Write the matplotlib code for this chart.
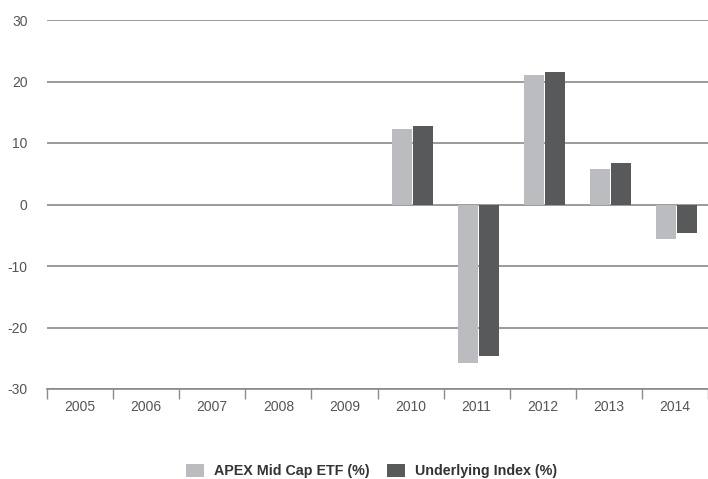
import matplotlib.pyplot as plt
import numpy as np

plt.rcParams['font.family'] = ['Liberation Sans', 'DejaVu Sans']
plt.rcParams['axes.unicode_minus'] = False

years = ['2005', '2006', '2007', '2008', '2009', '2010', '2011', '2012', '2013', '2014']
etf = [np.nan, np.nan, np.nan, np.nan, np.nan, 12.2, -25.8, 21.1, 5.7, -5.6]
index = [np.nan, np.nan, np.nan, np.nan, np.nan, 12.7, -24.7, 21.6, 6.7, -4.7]

light = '#bbbcbf'
dark = '#58595b'
text_col = '#555555'

fig = plt.figure(figsize=(7.08, 4.79), dpi=100)
ax = fig.add_axes([47 / 708, 1 - 389 / 479, 1 - 47 / 708, (389 - 20) / 479])

x = np.arange(len(years))
w = 0.3
ax.bar(x - w / 2 + 0.02, etf, width=w, color=light, label='APEX Mid Cap ETF (%)', zorder=3)
ax.bar(x + w / 2 + 0.035, index, width=w, color=dark, label='Underlying Index (%)', zorder=3)

ax.set_xlim(-0.5, len(years) - 0.5)
ax.set_ylim(-30, 30)
ax.set_yticks(range(-30, 31, 10))
ax.yaxis.grid(True, color='#8a8a8a', linewidth=1.2, zorder=1)
ax.set_axisbelow(True)

for s in ['top', 'right', 'left']:
    ax.spines[s].set_visible(False)
ax.spines['bottom'].set_color('#8a8a8a')
ax.spines['bottom'].set_linewidth(1.2)

ax.set_xticks(x)
ax.set_xticklabels(years)
ax.set_xticks(np.arange(-0.5, len(years) - 0.4, 1), minor=True)
ax.tick_params(axis='x', which='major', length=0, pad=8, labelsize=10, labelcolor=text_col)
ax.tick_params(axis='x', which='minor', length=7, width=1, color='#8a8a8a', direction='out')
ax.tick_params(axis='y', length=0, pad=14, labelsize=10, labelcolor=text_col)

leg = fig.legend(loc='lower center', bbox_to_anchor=(0.525, -0.025), ncol=2, frameon=False,
                 prop={'weight': 'bold', 'size': 10.3}, handlelength=1.25, handleheight=1.0,
                 columnspacing=1.2, handletextpad=0.7)
for t in leg.get_texts():
    t.set_color('#333333')

fig.savefig('out.png', dpi=100)
